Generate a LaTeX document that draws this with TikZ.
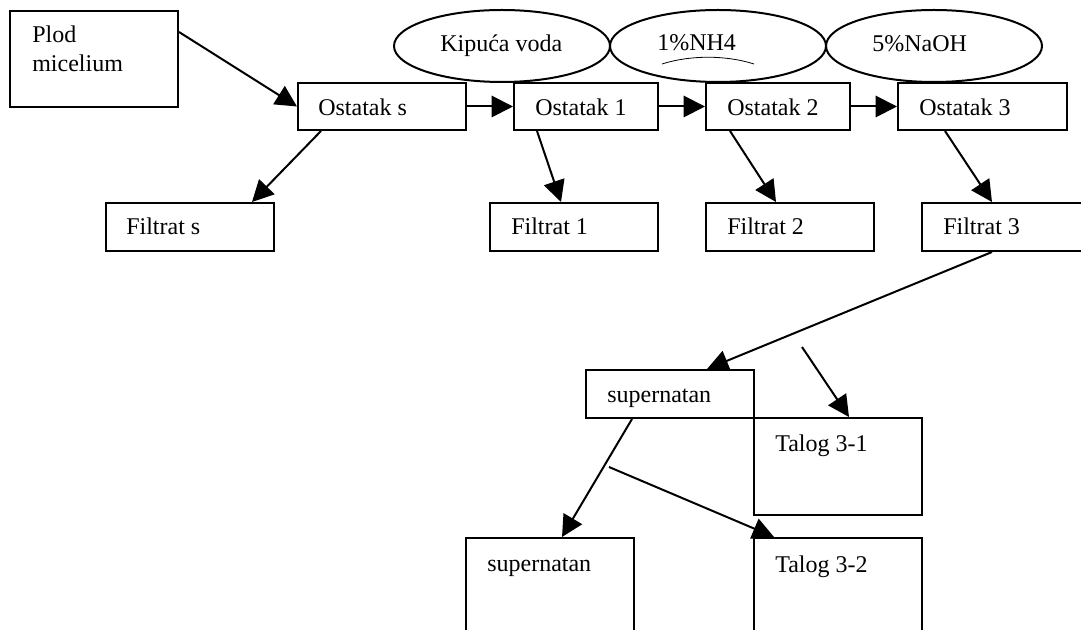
\documentclass[tikz,border=0pt]{standalone}
\usepackage{fontspec}
\setmainfont{Liberation Serif}
\usetikzlibrary{arrows.meta,calc,shapes.geometric}
\tikzset{
  bx/.style={draw, line width=1.5pt, inner sep=0pt, rectangle},
  ell/.style={draw, line width=1.5pt, ellipse, inner sep=0pt, minimum width=162pt, minimum height=54pt},
  txt/.style={anchor=base west, inner sep=0pt, font=\fontsize{18pt}{22pt}\selectfont},
  arr/.style={line width=1.5pt, -{Triangle[length=16pt,width=16pt]}},
}
\begin{document}
\begin{tikzpicture}[x=0.75pt,y=-0.75pt]
\fill[white] (0,0) rectangle (1081,630);
\useasboundingbox (0,0) rectangle (1081,630);

% ellipses
\node[ell] (e1) at (502,46) {};
\node[ell] (e2) at (718,46) {};
\node[ell] (e3) at (934,46) {};
\node[txt] (te1) at (440,52) {Kipuća voda};
\node[txt] (te2) at (657,51) {1\%NH4};
\node[txt] (te3) at (872,52) {5\%NaOH};
\draw[line width=0.6pt] (662,64) .. controls (690,55) and (726,55) .. (754,64);

% boxes
\node[bx, minimum width=126pt, minimum height=72pt] (plod) at (94,59) {};
\node[txt] (tplod1) at (32,43) {Plod};
\node[txt] (tplod2) at (32,72) {micelium};

\node[bx, minimum width=126pt, minimum height=35.25pt] (os) at (382,106.5) {};
\node[txt] (tos) at (318,116) {Ostatak s};
\node[bx, minimum width=108pt, minimum height=35.25pt] (o1) at (586,106.5) {};
\node[txt] (to1) at (535,116) {Ostatak 1};
\node[bx, minimum width=108pt, minimum height=35.25pt] (o2) at (778,106.5) {};
\node[txt] (to2) at (727,116) {Ostatak 2};
\node[bx, minimum width=126.75pt, minimum height=35.25pt] (o3) at (982.5,106.5) {};
\node[txt] (to3) at (919,116) {Ostatak 3};

\node[bx, minimum width=126pt, minimum height=36pt] (fs) at (190,227) {};
\node[txt] (tfs) at (126,235) {Filtrat s};
\node[bx, minimum width=126pt, minimum height=36pt] (f1) at (574,227) {};
\node[txt] (tf1) at (511,235) {Filtrat 1};
\node[bx, minimum width=126pt, minimum height=36pt] (f2) at (790,227) {};
\node[txt] (tf2) at (727,235) {Filtrat 2};
\node[bx, minimum width=157.5pt, minimum height=36pt] (f3) at (1027,227) {};
\node[txt] (tf3) at (943,235) {Filtrat 3};

\node[bx, minimum width=126pt, minimum height=36pt] (sup1) at (670,394) {};
\node[txt] (tsup1) at (607,403) {supernatan};
\node[bx, minimum width=126pt, minimum height=72.75pt] (t31) at (838,466.5) {};
\node[txt] (tt31) at (775,452) {Talog 3-1};
\node[bx, minimum width=126pt, minimum height=91.5pt] (sup2) at (550,599) {};
\node[txt] (tsup2) at (487,571) {supernatan};
\node[bx, minimum width=126pt, minimum height=91.5pt] (t32) at (838,599) {};
\node[txt] (tt32) at (775,572) {Talog 3-2};

\coordinate (c1) at (802,347);
\coordinate (c2) at (609,467);

% connectors
\draw[arr] ($(plod.north east)+(0,22)$) -- (os.west);
\draw[arr] (os.east) -- (o1.west);
\draw[arr] (o1.east) -- (o2.west);
\draw[arr] (o2.east) -- (o3.west);
\draw[arr] ($(os.south west)+(24,0)$) -- ($(fs.north east)+(-23,0)$);
\draw[arr] ($(o1.south west)+(24,0)$) -- ($(f1.north west)+(72,0)$);
\draw[arr] ($(o2.south west)+(25,0)$) -- ($(f2.north west)+(71,0)$);
\draw[arr] ($(o3.south west)+(48,0)$) -- ($(f3.north west)+(71,0)$);
\draw[arr] ($(f3.south west)+(71,0)$) -- ($(sup1.north west)+(122,0)$);
\draw[arr] (c1) -- ($(t31.north west)+(96,0)$);
\draw[arr] ($(sup1.south west)+(47,0)$) -- ($(sup2.north west)+(97,0)$);
\draw[arr] (c2) -- ($(t32.north west)+(21,0)$);
\end{tikzpicture}
\end{document}
